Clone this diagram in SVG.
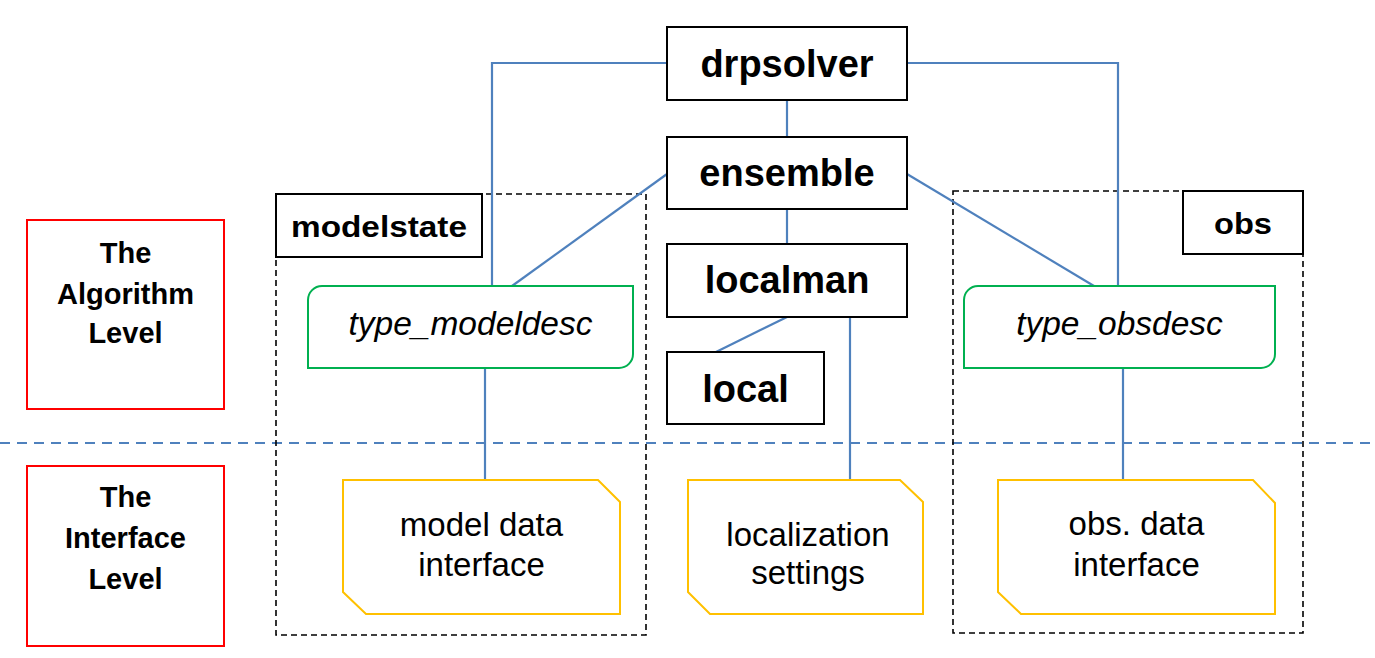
<svg xmlns="http://www.w3.org/2000/svg" width="1375" height="658" viewBox="0 0 1375 658">
<style>
.bg{fill:#ffffff}
.conn{stroke:#4F81BD;stroke-width:2.2;fill:none}
.sep{stroke:#4F81BD;stroke-width:2.2;stroke-dasharray:10 7;fill:none}
.box{fill:#ffffff;stroke:#000000;stroke-width:2}
.dash{fill:none;stroke:#000000;stroke-width:1.6;stroke-dasharray:6 4}
.red{fill:#ffffff;stroke:#FF0000;stroke-width:2}
.green{fill:#ffffff;stroke:#00B050;stroke-width:2}
.yellow{fill:#ffffff;stroke:#FFC000;stroke-width:2}
.bold{font-family:"Liberation Sans",Arial,sans-serif;font-weight:bold;fill:#000;text-anchor:middle}
.big{font-size:38px}
.mid{font-size:30px}
.lvl{font-size:29px}
.ital{font-family:"Liberation Sans",Arial,sans-serif;font-style:italic;font-size:33.5px;fill:#000;text-anchor:middle}
.reg{font-family:"Liberation Sans",Arial,sans-serif;font-size:33px;fill:#000;text-anchor:middle}
</style>
<rect class="bg" x="0" y="0" width="1375" height="658"/>

<g id="algorithm-level">
<rect class="red" x="27" y="220" width="197" height="189"/>
<text class="bold lvl" x="125.5" y="263">The</text>
<text class="bold lvl" x="125.5" y="304">Algorithm</text>
<text class="bold lvl" x="125.5" y="343">Level</text>
</g>
<g id="interface-level">
<rect class="red" x="27" y="466" width="197" height="180"/>
<text class="bold lvl" x="125.5" y="507">The</text>
<text class="bold lvl" x="125.5" y="548">Interface</text>
<text class="bold lvl" x="125.5" y="589">Level</text>
</g>

<g id="separator">
<line class="sep" x1="0" y1="443" x2="1375" y2="443"/>
</g>

<g id="modelstate">
<rect class="dash" x="276" y="194" width="370" height="441"/>
<rect class="box" x="276" y="194" width="206" height="63"/>
<text class="bold mid" x="379" y="237" textLength="176" lengthAdjust="spacingAndGlyphs">modelstate</text>
</g>
<g id="obs">
<rect class="dash" x="953" y="191" width="350" height="442"/>
<rect class="box" x="1183" y="191" width="120" height="63"/>
<text class="bold mid" x="1243" y="234" textLength="58" lengthAdjust="spacingAndGlyphs">obs</text>
</g>

<g id="connectors">
<polyline class="conn" points="667,63 492,63 492,286"/>
<polyline class="conn" points="907,63 1118,63 1118,286"/>
<line class="conn" x1="787" y1="100" x2="787" y2="137"/>
<line class="conn" x1="667" y1="174" x2="512" y2="286"/>
<line class="conn" x1="907" y1="174" x2="1094" y2="286"/>
<line class="conn" x1="787" y1="209" x2="787" y2="244"/>
<line class="conn" x1="787" y1="317" x2="716" y2="352"/>
<line class="conn" x1="850" y1="317" x2="850" y2="480"/>
<line class="conn" x1="485" y1="368" x2="485" y2="480"/>
<line class="conn" x1="1123" y1="368" x2="1123" y2="480"/>
</g>

<g id="drpsolver">
<rect class="box" x="667" y="27" width="240" height="73"/>
<text class="bold big" x="787" y="77">drpsolver</text>
</g>
<g id="ensemble">
<rect class="box" x="667" y="137" width="240" height="72"/>
<text class="bold big" x="787" y="186">ensemble</text>
</g>
<g id="localman">
<rect class="box" x="667" y="244" width="240" height="73"/>
<text class="bold big" x="787" y="293">localman</text>
</g>
<g id="local">
<rect class="box" x="667" y="352" width="157" height="72"/>
<text class="bold big" x="745.5" y="402">local</text>
</g>

<g id="type_modeldesc">
<path class="green" d="M322,286 H633 V354 A14,14 0 0 1 619,368 H308 V300 A14,14 0 0 1 322,286 Z"/>
<text class="ital" x="470.5" y="335">type_modeldesc</text>
</g>
<g id="type_obsdesc">
<path class="green" d="M978,286 H1275 V354 A14,14 0 0 1 1261,368 H964 V300 A14,14 0 0 1 978,286 Z"/>
<text class="ital" x="1119.5" y="335">type_obsdesc</text>
</g>

<g id="model-data-interface">
<path class="yellow" d="M343,480 H598 L620,502 V614 H366 L343,592 Z"/>
<text class="reg" x="481.5" y="536">model data</text>
<text class="reg" x="481.5" y="576">interface</text>
</g>
<g id="localization-settings">
<path class="yellow" d="M688,480 H900 L923,502 V614 H710 L688,592 Z"/>
<text class="reg" x="808" y="546">localization</text>
<text class="reg" x="808" y="584">settings</text>
</g>
<g id="obs-data-interface">
<path class="yellow" d="M998,480 H1253 L1275,503 V614 H1021 L998,592 Z"/>
<text class="reg" x="1136.5" y="535">obs. data</text>
<text class="reg" x="1136.5" y="576">interface</text>
</g>
</svg>
